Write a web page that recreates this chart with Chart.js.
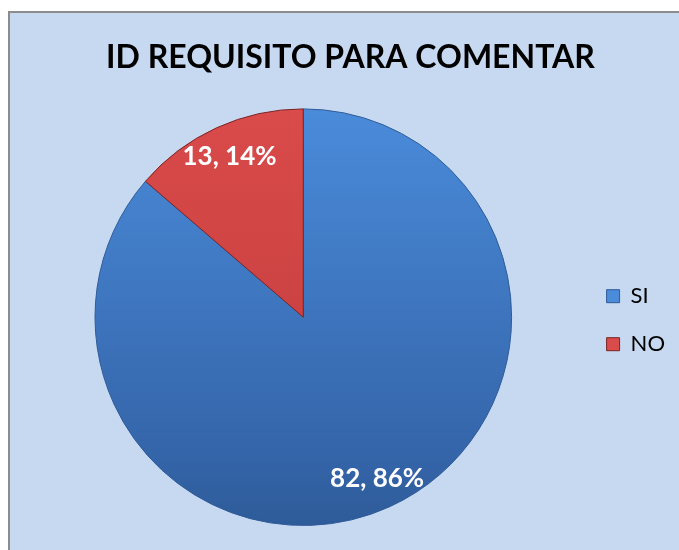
<!DOCTYPE html>
<html>
<head>
<meta charset="utf-8">
<script src="https://cdn.jsdelivr.net/npm/chart.js@4.4.1/dist/chart.umd.min.js"></script>
<style>
  html, body { margin: 0; padding: 0; background: #fff; overflow: hidden; }
  #frame {
    position: absolute; left: 8px; top: 11px; width: 700px; height: 560px;
    background: #C6D9F1; border: 2px solid #8C8C8C;
  }
  #pieChart { position: absolute; left: 0; top: 0; }
</style>
</head>
<body>
<div id="frame"></div>
<canvas id="pieChart" width="679" height="550"></canvas>
<script>
// chart data
const categories = ['SI', 'NO'];
const counts = [82, 13];
const percentLabels = ['86%', '14%'];
const topColors = ['#4A8BDA', '#DA4B4B'];
const bottomColors = ['#3464A8', '#C23B3B'];
const edgeColors = ['#2E5B98', '#7A2424'];

const titleText = 'ID REQUISITO PARA COMENTAR';

// gradient fill per slice, top lighter -> bottom darker
function sliceFill(context) {
    const chart = context.chart;
    const area = chart.chartArea;
    if (!area) return topColors[context.dataIndex];
    const g = chart.ctx.createLinearGradient(0, area.top, 0, area.bottom);
    g.addColorStop(0, topColors[context.dataIndex]);
    g.addColorStop(0.85, bottomColors[context.dataIndex]);
    g.addColorStop(1, edgeColors[context.dataIndex]);
    return g;
}

// "value, pct" labels near the outer edge of each slice
const sliceLabels = {
    id: 'sliceLabels',
    afterDatasetsDraw(chart) {
        const ctx = chart.ctx;
        const meta = chart.getDatasetMeta(0);
        ctx.save();
        ctx.font = 'bold 26px Lato, "Open Sans", sans-serif';
        ctx.fillStyle = '#ffffff';
        ctx.textAlign = 'center';
        ctx.textBaseline = 'middle';
        meta.data.forEach((arc, i) => {
            const p = arc.getProps(['x', 'y', 'startAngle', 'endAngle', 'outerRadius'], true);
            const mid = (p.startAngle + p.endAngle) / 2;
            const d = p.outerRadius * 0.85;
            const x = p.x + Math.cos(mid) * d;
            const y = p.y + Math.sin(mid) * d;
            ctx.fillText(counts[i] + ', ' + percentLabels[i], x, y);
        });
        ctx.restore();
    }
};

const canvas = document.getElementById('pieChart');
new Chart(canvas.getContext('2d'), {
    type: 'pie',
    data: {
        labels: categories,
        datasets: [{
            data: counts,
            backgroundColor: sliceFill,
            borderColor: edgeColors,
            borderWidth: 1
        }]
    },
    options: {
        responsive: false,
        animation: false,
        layout: {
            padding: { left: 26, right: 4, top: 0, bottom: 24 }
        },
        plugins: {
            title: {
                display: true,
                text: titleText,
                color: '#000000',
                font: { family: 'Lato, "Open Sans", sans-serif', size: 32, weight: 'bold' },
                padding: { top: 38, bottom: 32 }
            },
            legend: {
                position: 'right',
                // empty legend title only used to push the items down
                title: { display: true, text: '', font: { size: 12 }, padding: { top: 50, bottom: 50 } },
                labels: {
                    color: '#000000',
                    font: { family: 'Lato, "Open Sans", sans-serif', size: 22 },
                    boxWidth: 13,
                    boxHeight: 13,
                    padding: 26,
                    generateLabels(chart) {
                        return categories.map((c, i) => ({
                            text: c,
                            fillStyle: topColors[i],
                            strokeStyle: edgeColors[i],
                            fontColor: '#000000',
                            lineWidth: 1,
                            index: i
                        }));
                    }
                }
            },
            tooltip: { enabled: false }
        }
    },
    plugins: [sliceLabels]
});
</script>
</body>
</html>
